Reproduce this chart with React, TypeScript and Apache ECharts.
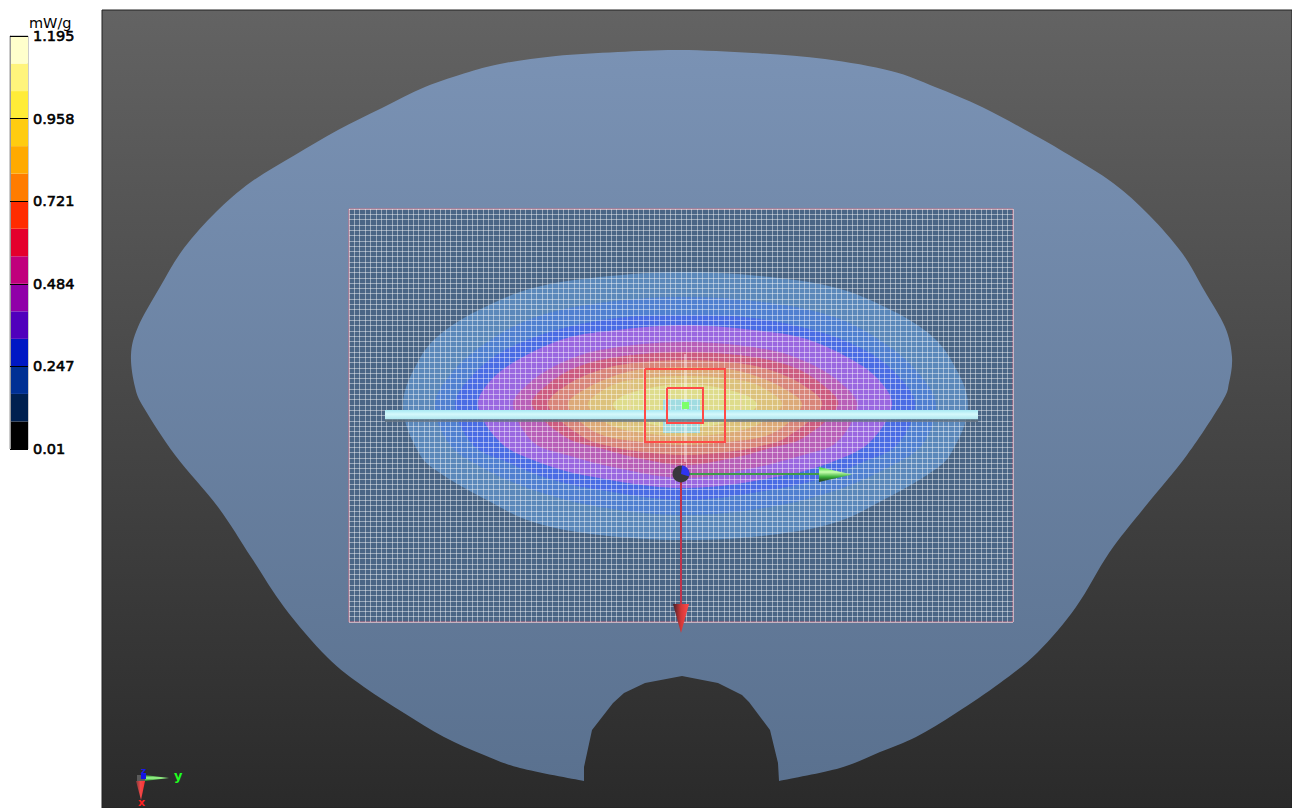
import React, { useEffect, useRef } from "react";
import * as echarts from "echarts";

const legendEdges = [0.01, 0.089, 0.168, 0.247, 0.326, 0.405, 0.484, 0.563, 0.642, 0.721, 0.8, 0.879, 0.958, 1.037, 1.116, 1.195];
const legendColors = ["#000000", "#00204f", "#003094", "#0018c4", "#5000bc", "#9000a8", "#c0007c", "#e4002c", "#ff2c00", "#ff7c00", "#ffaa00", "#ffcc10", "#ffec38", "#fff47c", "#ffffcc"];
const legendTicks = [0.01, 0.247, 0.484, 0.721, 0.958, 1.195];

const phantomUpper = [[584, 781], [520, 768], [484, 755], [444, 737], [404, 713], [364, 687], [327, 657], [284, 607], [251, 557], [218, 507], [175, 455], [144, 408], [135, 387], [131, 355], [138, 327], [160, 287], [184, 248], [216, 212], [251, 182], [295, 155], [338, 130], [382, 108], [425, 87], [469, 72], [505, 63], [556, 56], [618, 52], [680, 50], [753, 53], [825, 59], [891, 71], [935, 87], [982, 107], [1029, 132], [1069, 155], [1113, 183], [1149, 215], [1182, 253], [1204, 290], [1225, 327], [1232, 357], [1229, 383], [1222, 402], [1187, 455], [1144, 508], [1109, 553], [1076, 607], [1038, 652], [1000, 683], [956, 713], [916, 737], [880, 752], [840, 768], [779, 781]];
const phantomNotch = [[779, 781], [778, 763], [770, 730], [749, 702], [742, 695], [718, 683], [682, 676], [645, 683], [624, 693], [613, 703], [592, 730], [584, 767], [584, 781]];

const contour1 = [[403, 405], [420, 358], [443, 332], [483, 308], [533, 288], [600, 277], [685, 272], [770, 277], [837, 288], [887, 308], [927, 332], [950, 358], [968, 405], [950, 455], [927, 475], [887, 498], [837, 522], [770, 535], [685, 540], [600, 535], [533, 522], [483, 498], [443, 475], [420, 455]];
const contour2 = [[435, 405], [450, 375], [483, 345], [533, 318], [600, 303], [685, 297], [770, 303], [837, 318], [887, 345], [920, 375], [936, 405], [922, 445], [887, 468], [837, 490], [770, 507], [685, 515], [600, 507], [533, 490], [483, 468], [450, 445]];
const contour3 = [[455, 405], [470, 378], [500, 353], [550, 332], [617, 318], [685, 315], [753, 318], [820, 332], [870, 353], [900, 378], [915, 405], [897, 445], [863, 462], [820, 479], [770, 490], [685, 500], [600, 490], [550, 479], [507, 462], [473, 445]];
const contour4 = [[478, 405], [493, 378], [523, 357], [567, 338], [617, 330], [685, 325], [753, 330], [803, 338], [847, 357], [877, 378], [892, 405], [870, 442], [837, 460], [787, 475], [685, 488], [583, 475], [533, 460], [500, 442]];
const contour5 = [[513, 405], [527, 385], [557, 365], [600, 350], [685, 342], [770, 350], [813, 365], [843, 385], [857, 405], [837, 442], [803, 455], [753, 468], [685, 478], [617, 468], [567, 455], [533, 442]];
const contour6 = [[532, 405], [547, 385], [577, 367], [617, 357], [685, 352], [753, 357], [793, 367], [823, 385], [838, 405], [803, 438], [770, 448], [737, 457], [685, 465], [633, 457], [600, 448], [567, 438]];
const contour7 = [[548, 405], [567, 385], [600, 370], [633, 363], [685, 360], [737, 363], [770, 370], [803, 385], [822, 405], [787, 437], [757, 447], [727, 452], [685, 455], [643, 452], [613, 447], [583, 437]];
const contour8 = [[568, 405], [587, 388], [617, 375], [643, 369], [685, 367], [727, 369], [753, 375], [783, 388], [802, 405], [773, 433], [727, 442], [685, 445], [643, 442], [597, 433]];
const contour9 = [[588, 405], [600, 392], [625, 381], [685, 376], [745, 381], [770, 392], [782, 405], [757, 425], [720, 434], [685, 436], [650, 434], [610, 425]];
const contour10 = [[613, 405], [630, 393], [685, 384], [740, 393], [757, 405], [735, 420], [685, 428], [635, 420]];
const contours = [contour1, contour2, contour3, contour4, contour5, contour6, contour7, contour8, contour9, contour10];
const contourColors = ["#5b88ba", "#5080d0", "#4a6ce4", "#9a68e0", "#b860b8", "#cc5c80", "#d8867a", "#dcaa78", "#dcc27c", "#dedc8c"];

const peakRect = [[663, 399], [700, 399], [700, 433], [663, 433]];
const peakDot = [[682, 402], [689, 402], [689, 409], [682, 409]];
const scanBig = [[645, 369], [725, 369], [725, 442], [645, 442]];
const scanSmall = [[667, 388], [703, 388], [703, 423], [667, 423]];
const probeBar = [[385, 410], [978, 410], [978, 422], [385, 422]];
const yAxisLine = [[689, 474], [822, 474]];
const xAxisLine = [[681, 482], [681, 606]];
const yCone = [[819, 467], [852, 474.5], [819, 482]];
const xCone = [[673, 604], [689, 604], [681, 633]];
const scanLineA = [[630, 354], [630, 460]];
const scanLineB = [[741, 354], [741, 460]];
const scanLineC = [[685, 354], [685, 462]];
const miniGreen = [[145, 775], [169, 778], [145, 781]];
const miniRed = [[136, 781], [145, 781], [141, 800]];
const miniStem = [[137, 775], [145, 775], [145, 782], [137, 782]];
const miniBlue = [[141, 773], [146, 773], [146, 779], [141, 779]];
const axisLetters = [
  { at: [174, 769], text: "y", color: "#20ff20", size: 13 },
  { at: [138, 797], text: "x", color: "#ff2020", size: 11 },
  { at: [141, 766], text: "z", color: "#1818e8", size: 9 },
];

const grad = (stops: string[], horizontal = false) =>
  new echarts.graphic.LinearGradient(0, 0, horizontal ? 1 : 0, horizontal ? 0 : 1, stops.map((color, i) => ({ offset: i / (stops.length - 1), color })));

const shape = (points: number[][], style: any, z: number, smooth = 0) => ({
  type: "custom",
  coordinateSystem: "cartesian2d",
  xAxisIndex: 0,
  yAxisIndex: 0,
  silent: true,
  z,
  data: [[0, 0]],
  renderItem: (_p: any, api: any) => ({
    type: "polygon",
    shape: { points: points.map((p) => api.coord(p)), smooth },
    style,
  }),
});

const lineShape = (points: number[][], stroke: string, width: number, z: number) => ({
  type: "custom",
  coordinateSystem: "cartesian2d",
  xAxisIndex: 0,
  yAxisIndex: 0,
  silent: true,
  z,
  data: [[0, 0]],
  renderItem: (_p: any, api: any) => ({
    type: "polyline",
    shape: { points: points.map((p) => api.coord(p)) },
    style: { stroke, lineWidth: width, fill: "none" },
  }),
});

const closed = (p: number[][]) => [...p, p[0]];

export default function App() {
  const ref = useRef<HTMLDivElement>(null);
  useEffect(() => {
    const chart = echarts.init(ref.current!, undefined, { renderer: "svg" });
    const hidden = { show: false };
    chart.setOption({
      animation: false,
      backgroundColor: "#ffffff",
      grid: [
        {
          left: 102, top: 10, width: 1190, height: 798, show: true, z: 0,
          backgroundColor: grad(["#636363", "#2a2a2a"]), borderColor: "#222222", borderWidth: 1,
        },
        { left: 10, top: 36, width: 18, height: 413, show: true, z: 0, borderColor: "#999999", borderWidth: 1 },
        {
          left: 349, top: 209, width: 664, height: 413, show: true, z: 2,
          backgroundColor: "#4a6585", borderColor: "#cf7488", borderWidth: 1,
        },
      ],
      xAxis: [
        { gridIndex: 0, type: "value", min: 102, max: 1292, show: false },
        { gridIndex: 1, type: "value", min: 0, max: 1, show: false },
        {
          gridIndex: 2, type: "value", min: 0, max: 124, interval: 1, z: 4, show: true,
          axisLine: hidden, axisTick: hidden, axisLabel: hidden,
          splitLine: { show: true, lineStyle: { color: "rgba(255,255,255,0.44)", width: 1 } },
        },
      ],
      yAxis: [
        { gridIndex: 0, type: "value", min: 10, max: 808, inverse: true, show: false },
        {
          gridIndex: 1, type: "value", min: 0.01, max: 1.195, position: "right", z: 5,
          axisLine: { show: true, lineStyle: { color: "#999999" } },
          axisTick: { show: true, length: 5, customValues: legendTicks, lineStyle: { color: "#000000" } },
          axisLabel: {
            show: true, customValues: legendTicks, margin: 5, color: "#000000",
            fontFamily: "DejaVu Sans", fontSize: 14.5, fontWeight: "normal",
            textBorderColor: "#000000", textBorderWidth: 0.6,
            showMinLabel: true, showMaxLabel: true,
          },
          splitLine: { show: true, lineStyle: { color: "#000000", width: 1 } },
        },
        {
          gridIndex: 2, type: "value", min: 0, max: 78, interval: 1, z: 4, show: true,
          axisLine: hidden, axisTick: hidden, axisLabel: hidden,
          splitLine: { show: true, lineStyle: { color: "rgba(255,255,255,0.44)", width: 1 } },
        },
      ],
      graphic: [
        { type: "text", left: 29, top: 15, style: { text: "mW/g", fill: "#000000", font: "14.5px 'DejaVu Sans'" } },
      ],
      series: [
        {
          type: "custom",
          coordinateSystem: "cartesian2d",
          xAxisIndex: 0,
          yAxisIndex: 0,
          silent: true,
          z: 1,
          data: [[0, 0]],
          renderItem: (_p: any, api: any) => {
            const toPx = (pts: number[][]) => pts.map((p) => api.coord(p));
            const head = toPx(phantomUpper);
            const tail = toPx(phantomNotch);
            const seg = (a: number[], b: number[]) => `L${b[0]} ${b[1]}`;
            const d =
              `M${head[0][0]} ${head[0][1]}` +
              head.slice(1).map((p, i) => {
                const p0 = head[Math.max(i - 1, 0)];
                const p1 = head[i];
                const p2 = p;
                const p3 = head[Math.min(i + 2, head.length - 1)];
                const c1 = [p1[0] + (p2[0] - p0[0]) / 6, p1[1] + (p2[1] - p0[1]) / 6];
                const c2 = [p2[0] - (p3[0] - p1[0]) / 6, p2[1] - (p3[1] - p1[1]) / 6];
                return `C${c1[0]} ${c1[1]} ${c2[0]} ${c2[1]} ${p2[0]} ${p2[1]}`;
              }).join("") +
              tail.slice(1).map((p, i) => seg(tail[i], p)).join("") +
              "Z";
            return {
              type: "path",
              shape: { pathData: d },
              style: { fill: grad(["#7a92b4", "#5a718f"]) },
            };
          },
        },
        {
          type: "custom",
          coordinateSystem: "cartesian2d",
          xAxisIndex: 1,
          yAxisIndex: 1,
          silent: true,
          z: 3,
          data: legendColors.map((_, i) => [legendEdges[i], legendEdges[i + 1], i]),
          renderItem: (_p: any, api: any) => {
            const a = api.coord([0, api.value(0)]);
            const b = api.coord([1, api.value(1)]);
            return {
              type: "rect",
              shape: { x: a[0], y: b[1], width: b[0] - a[0], height: a[1] - b[1] },
              style: { fill: legendColors[api.value(2)] },
            };
          },
        },
        ...contours.map((c, i) => shape(c, { fill: contourColors[i] }, 3, 0.35)),
        shape(peakRect, { fill: "rgba(150,220,240,0.85)" }, 3),
        lineShape(scanLineA, "rgba(255,215,215,0.55)", 1, 5),
        lineShape(scanLineB, "rgba(255,215,215,0.55)", 1, 5),
        lineShape(scanLineC, "rgba(255,255,255,0.85)", 1, 5),
        shape(probeBar, {
          fill: new echarts.graphic.LinearGradient(0, 0, 0, 1, [
            { offset: 0, color: "#a8e8f2" },
            { offset: 0.35, color: "#d4f9fc" },
            { offset: 0.72, color: "#b4e8f0" },
            { offset: 0.8, color: "rgba(100,125,140,0.9)" },
            { offset: 1, color: "rgba(70,80,95,0.55)" },
          ]),
        }, 6),
        shape(peakDot, { fill: "#7cff6a" }, 7),
        lineShape(closed(scanBig), "#ff4a48", 2, 7),
        lineShape(closed(scanSmall), "#ff4a48", 2, 7),
        lineShape(yAxisLine, "#3f9a4a", 2, 7),
        lineShape(xAxisLine, "#c0324a", 2, 7),
        shape(yCone, { fill: grad(["#38d838", "#c8ffb0", "#38b038", "#203020"]) }, 8),
        shape(xCone, { fill: grad(["#401f28", "#d43838", "#ff4a4a"], true) }, 8),
        {
          type: "custom",
          coordinateSystem: "cartesian2d",
          xAxisIndex: 0,
          yAxisIndex: 0,
          silent: true,
          z: 9,
          data: [[681, 474]],
          renderItem: (_p: any, api: any) => {
            const c = api.coord([api.value(0), api.value(1)]);
            return {
              type: "group",
              children: [
                { type: "circle", shape: { cx: c[0], cy: c[1], r: 8.5 }, style: { fill: "#38383c" } },
                { type: "sector", shape: { cx: c[0], cy: c[1], r: 8.5, r0: 0, startAngle: -1.45, endAngle: 0.3 }, style: { fill: "#2f34f0" } },
              ],
            };
          },
        },
        shape(miniStem, { fill: "#5a5a5a" }, 7),
        shape(miniRed, { fill: grad(["#7a3a3a", "#f04848", "#ff3030"], true) }, 8),
        shape(miniGreen, { fill: grad(["#2a7a2a", "#a0ff90", "#208020"]) }, 8),
        shape(miniBlue, { fill: "#1414e0" }, 9),
        {
          type: "custom",
          coordinateSystem: "cartesian2d",
          xAxisIndex: 0,
          yAxisIndex: 0,
          silent: true,
          clip: true,
          z: 9,
          data: axisLetters.map((l, i) => [l.at[0], l.at[1], i]),
          renderItem: (_p: any, api: any) => {
            const c = api.coord([api.value(0), api.value(1)]);
            const l = axisLetters[api.value(2)];
            return {
              type: "text",
              x: c[0],
              y: c[1],
              style: { text: l.text, fill: l.color, font: `bold ${l.size}px 'DejaVu Sans'` },
            };
          },
        },
      ],
    });
    return () => chart.dispose();
  }, []);
  return <div ref={ref} style={{ position: "absolute", left: 0, top: 0, width: 1292, height: 808 }} />;
}
